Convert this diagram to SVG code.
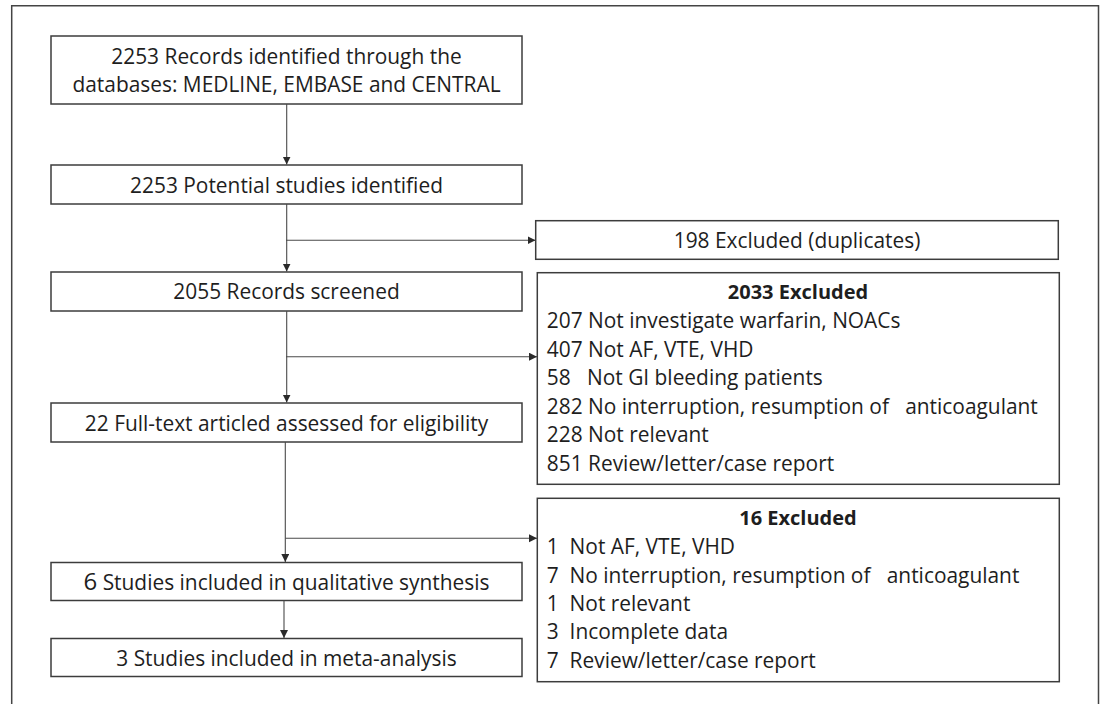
<svg xmlns="http://www.w3.org/2000/svg" width="1103" height="704" viewBox="0 0 1103 704">
<style>
.box{fill:#fff;stroke:#3c3c3c;stroke-width:1.5}
.frame{fill:none;stroke:#444;stroke-width:1.5}
.t{font-family:"Open Sans","Liberation Sans",sans-serif;font-size:20.9px;fill:#1e1e1e}
.c{text-anchor:middle}
.b{font-weight:bold;font-size:20px}
.pre{white-space:pre}
.con line{stroke:#4a4a4a;stroke-width:1.1}
</style>
<defs>
<marker id="ah" markerUnits="userSpaceOnUse" markerWidth="9" markerHeight="9" refX="8" refY="4" orient="auto">
<path d="M0,0 L8,4 L0,8 Z" fill="#2a2a2a"/>
</marker>
</defs>
<rect width="1103" height="704" fill="#fff"/>
<path class="frame" d="M11.7,704 V5.7 H1098.5 V704"/>

<g id="n1"><rect class="box" x="51" y="36" width="471" height="68"/>
<text class="t c" x="286.5" y="64">2253 Records identified through the</text>
<text class="t c" x="286.5" y="92">databases: MEDLINE, EMBASE and CENTRAL</text></g>

<g id="n2"><rect class="box" x="51" y="165" width="471" height="39"/>
<text class="t c" x="286.5" y="192.5">2253 Potential studies identified</text></g>

<g id="n3"><rect class="box" x="51" y="272" width="471" height="39"/>
<text class="t c" x="286.5" y="299">2055 Records screened</text></g>

<g id="n4"><rect class="box" x="51" y="403" width="471" height="39"/>
<text class="t c" x="286.5" y="430.5">22 Full-text articled assessed for eligibility</text></g>

<g id="n5"><rect class="box" x="51" y="562.5" width="471" height="38"/>
<text class="t c" x="286.5" y="590"><tspan font-size="24">6</tspan> Studies included in qualitative synthesis</text></g>

<g id="n6"><rect class="box" x="51" y="638.5" width="471" height="38"/>
<text class="t c" x="286.5" y="665.5">3 Studies included in meta-analysis</text></g>

<g id="x1"><rect class="box" x="535.7" y="220.7" width="522.6" height="38.6"/>
<text class="t c" x="797" y="248">198 Excluded (duplicates)</text></g>

<g id="x2"><rect class="box" x="537.3" y="272.7" width="522" height="211.6"/>
<text class="t c b" x="798" y="299">2033 Excluded</text>
<text class="t pre" x="546.8" y="328">207 Not investigate warfarin, NOACs</text>
<text class="t pre" x="546.8" y="356.5">407 Not AF, VTE, VHD</text>
<text class="t pre" x="546.8" y="385">58   Not GI bleeding patients</text>
<text class="t pre" x="546.8" y="413.5">282 No interruption, resumption of   anticoagulant</text>
<text class="t pre" x="546.8" y="442">228 Not relevant</text>
<text class="t pre" x="546.8" y="470.5">851 Review/letter/case report</text></g>

<g id="x3"><rect class="box" x="537.3" y="498.3" width="522" height="183.4"/>
<text class="t c b" x="798" y="525">16 Excluded</text>
<text class="t pre" x="546.8" y="554">1  Not AF, VTE, VHD</text>
<text class="t pre" x="546.8" y="582.5">7  No interruption, resumption of   anticoagulant</text>
<text class="t pre" x="546.8" y="611">1  Not relevant</text>
<text class="t pre" x="546.8" y="639">3  Incomplete data</text>
<text class="t pre" x="546.8" y="667.5">7  Review/letter/case report</text></g>

<g id="connectors" class="con">
<line x1="286.7" y1="104" x2="286.7" y2="164.5" marker-end="url(#ah)"/>
<line x1="286.7" y1="204" x2="286.7" y2="271.5" marker-end="url(#ah)"/>
<line x1="286" y1="240.3" x2="535.5" y2="240.3" marker-end="url(#ah)"/>
<line x1="286.7" y1="311" x2="286.7" y2="402.5" marker-end="url(#ah)"/>
<line x1="286" y1="356.7" x2="537" y2="356.7" marker-end="url(#ah)"/>
<line x1="285.3" y1="442" x2="285.3" y2="562" marker-end="url(#ah)"/>
<line x1="285.3" y1="538.3" x2="537" y2="538.3" marker-end="url(#ah)"/>
<line x1="284" y1="600.5" x2="284" y2="638" marker-end="url(#ah)"/>
</g>
</svg>
